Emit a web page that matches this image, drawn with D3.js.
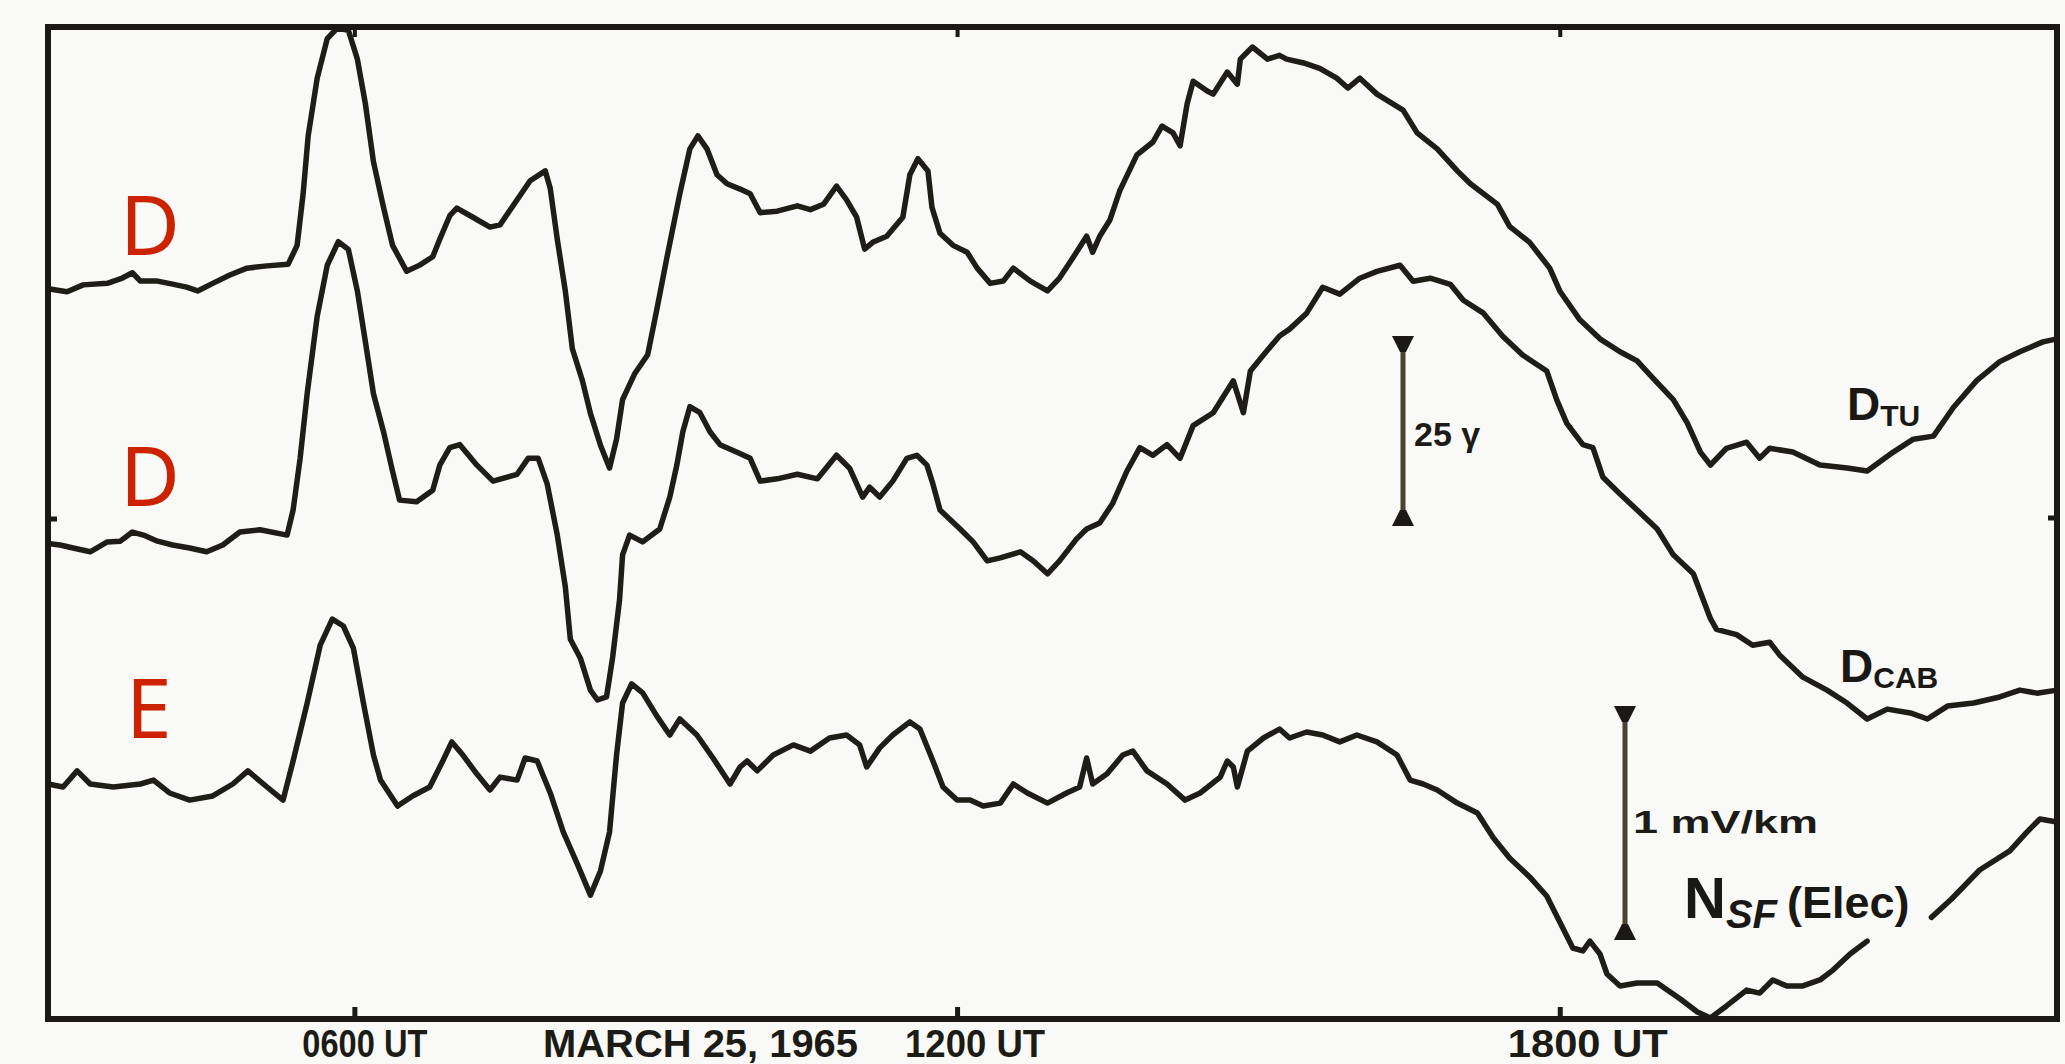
<!DOCTYPE html>
<html>
<head>
<meta charset="utf-8">
<script src="https://cdn.jsdelivr.net/npm/d3@7"></script>
<style>
  html, body { margin: 0; padding: 0; background: #f9f9f7; }
  svg { display: block; }
</style>
</head>
<body>
<svg id="chart" width="2065" height="1064"></svg>
<script>
// ---- Data: Tucson / Cabimas D components (gamma) and N-S electric field (mV/km), 25 March 1965
// Each point: [hour UT, deflection from the quiet level]

const tickHours = [6, 12, 18];
const tickLabels = ["0600 UT", "1200 UT", "1800 UT"];
const tickLabelWidths = [125, 140, 160];
const dateLabel = "MARCH 25, 1965";
const sideLetters = ["D", "D", "E"];

const dTU = [
  [2.95,0.7],[3.14,0.3],[3.30,1.2],[3.54,1.4],[3.69,2.1],[3.79,2.8],[3.87,1.7],[4.04,1.7],[4.19,1.3],[4.33,0.9],
  [4.44,0.4],[4.59,1.4],[4.76,2.5],[4.93,3.4],[5.13,3.7],[5.34,3.9],[5.43,6.4],[5.49,13.2],[5.54,20.8],[5.63,28.4],
  [5.73,33.6],[5.83,35.0],[5.94,34.7],[6.03,30.9],[6.11,25.0],[6.19,17.4],[6.29,11.4],[6.38,6.4],[6.52,3.0],[6.65,3.8],
  [6.78,4.9],[6.85,7.2],[6.95,10.3],[7.02,11.3],[7.18,10.1],[7.35,8.8],[7.45,9.1],[7.62,12.4],[7.75,14.9],[7.90,16.2],
  [7.95,13.9],[8.02,7.2],[8.10,0.4],[8.17,-7.2],[8.27,-11.4],[8.35,-15.7],[8.45,-19.9],[8.54,-22.9],[8.61,-19.1],[8.67,-13.9],
  [8.79,-10.5],[8.92,-8.0],[9.01,-2.1],[9.11,4.7],[9.24,13.2],[9.34,19.1],[9.42,20.8],[9.51,19.1],[9.61,15.7],[9.71,14.5],
  [9.84,13.8],[9.94,13.2],[10.04,10.7],[10.21,10.9],[10.41,11.6],[10.54,11.1],[10.67,11.8],[10.80,14.2],[10.90,12.4],[11.00,10.1],
  [11.08,5.9],[11.16,6.8],[11.30,7.6],[11.46,10.1],[11.53,15.7],[11.61,17.8],[11.71,16.2],[11.75,11.4],[11.83,8.0],[11.96,6.4],
  [12.10,5.5],[12.20,3.4],[12.33,1.4],[12.46,1.7],[12.56,3.4],[12.73,1.7],[12.90,0.4],[13.02,2.1],[13.15,4.7],[13.29,7.6],
  [13.35,5.5],[13.42,7.6],[13.52,9.7],[13.62,13.6],[13.79,18.3],[13.95,20.0],[14.04,22.1],[14.15,21.2],[14.22,19.5],[14.29,25.0],
  [14.35,28.0],[14.49,26.7],[14.55,26.3],[14.69,29.2],[14.79,27.6],[14.82,30.9],[14.94,32.5],[15.09,30.9],[15.21,31.4],[15.28,30.9],
  [15.45,30.4],[15.61,29.7],[15.78,28.4],[15.89,27.1],[16.01,28.4],[16.18,26.3],[16.44,24.2],[16.58,21.2],[16.78,19.1],[16.98,16.2],
  [17.11,14.5],[17.38,11.8],[17.50,8.9],[17.70,6.8],[17.90,3.4],[18.00,0.4],[18.20,-3.4],[18.40,-5.9],[18.60,-7.6],[18.77,-8.8],
  [18.93,-11.1],[19.13,-13.9],[19.27,-17.0],[19.40,-20.8],[19.50,-22.5],[19.66,-20.3],[19.86,-19.5],[19.99,-21.6],[20.09,-20.3],[20.32,-20.8],
  [20.59,-22.5],[20.86,-22.9],[21.06,-23.3],[21.32,-20.8],[21.52,-19.1],[21.72,-18.7],[21.92,-14.9],[22.15,-11.4],[22.38,-8.9],[22.58,-7.6],
  [22.81,-6.3],[22.95,-5.9]
];

const dCAB = [
  [2.95,0.6],[3.07,0.4],[3.20,0],[3.37,-0.5],[3.54,0.8],[3.67,0.9],[3.79,2.1],[3.90,1.7],[4.04,0.9],[4.19,0.4],
  [4.36,0],[4.53,-0.5],[4.69,0.4],[4.86,2.1],[5.06,2.4],[5.33,1.7],[5.39,5.0],[5.46,11.8],[5.53,20.3],[5.63,30.5],
  [5.73,37.2],[5.84,40.3],[5.94,39.3],[6.03,33.8],[6.11,27.1],[6.19,20.3],[6.29,15.3],[6.38,10.1],[6.45,6.3],[6.62,6.1],
  [6.78,7.6],[6.85,10.9],[6.95,13.2],[7.05,13.6],[7.22,10.9],[7.38,8.8],[7.62,9.7],[7.73,11.8],[7.83,11.8],[7.92,8.4],
  [8.02,1.7],[8.10,-5.1],[8.15,-12.0],[8.25,-14.5],[8.35,-18.7],[8.42,-20.0],[8.51,-19.6],[8.57,-14.5],[8.64,-6.8],[8.67,-0.9],
  [8.74,1.7],[8.87,0.8],[9.04,2.5],[9.14,6.7],[9.21,10.9],[9.27,15.3],[9.34,18.6],[9.44,17.8],[9.54,15.3],[9.64,13.6],
  [9.81,12.6],[9.94,11.8],[10.04,8.8],[10.21,9.1],[10.41,9.7],[10.61,9.1],[10.80,12.2],[10.93,10.5],[11.06,6.7],[11.13,8.0],
  [11.23,6.7],[11.36,8.8],[11.50,11.8],[11.60,12.2],[11.70,10.9],[11.76,8.4],[11.83,5.0],[12.03,2.5],[12.16,0.8],[12.30,-1.7],
  [12.43,-1.3],[12.63,-0.5],[12.76,-1.7],[12.90,-3.4],[13.02,-1.7],[13.19,1.2],[13.29,2.5],[13.42,3.3],[13.55,5.9],[13.69,10.1],
  [13.82,13.2],[13.95,12.2],[14.09,13.6],[14.22,11.8],[14.35,16.1],[14.55,17.8],[14.75,22.0],[14.85,17.8],[14.92,23.3],[15.05,25.4],
  [15.21,27.9],[15.31,28.8],[15.48,30.9],[15.64,34.3],[15.81,33.4],[16.01,35.5],[16.18,36.4],[16.41,37.2],[16.54,35.1],[16.71,35.5],
  [16.91,34.7],[17.04,32.6],[17.24,30.9],[17.43,27.9],[17.63,25.4],[17.87,23.3],[17.97,19.5],[18.07,16.4],[18.23,13.6],[18.33,13.2],
  [18.43,9.3],[18.60,7.1],[18.77,5.0],[18.97,2.5],[19.13,-0.9],[19.33,-3.4],[19.50,-9.3],[19.56,-10.7],[19.76,-11.4],[19.92,-12.8],
  [20.09,-12.4],[20.19,-14.1],[20.42,-17.0],[20.66,-18.7],[20.86,-20.4],[21.06,-22.5],[21.26,-21.2],[21.49,-21.7],[21.66,-22.5],[21.86,-20.8],
  [22.12,-20.4],[22.38,-19.6],[22.58,-18.7],[22.75,-19.1],[22.95,-18.7]
];

// null marks the break in the trace left for the "NSF (Elec)" label
const nsfElec = [
  [2.95,0],[3.10,-0.013],[3.24,0.057],[3.37,0],[3.60,-0.013],[3.87,0],[4.00,0.017],[4.16,-0.039],[4.36,-0.070],[4.59,-0.052],
  [4.79,0],[4.94,0.057],[5.13,-0.013],[5.29,-0.070],[5.39,0.100],[5.53,0.352],[5.66,0.604],[5.78,0.717],[5.89,0.687],[5.99,0.591],
  [6.09,0.352],[6.19,0.126],[6.26,0.017],[6.43,-0.096],[6.58,-0.052],[6.75,-0.013],[6.88,0.100],[6.97,0.183],[7.08,0.126],[7.22,0.043],
  [7.35,-0.026],[7.45,0.030],[7.62,0.017],[7.70,0.113],[7.82,0.100],[7.95,-0.039],[8.08,-0.209],[8.22,-0.348],[8.35,-0.483],[8.45,-0.378],
  [8.54,-0.209],[8.61,0.126],[8.67,0.352],[8.76,0.435],[8.87,0.396],[9.01,0.296],[9.14,0.213],[9.24,0.283],[9.41,0.213],[9.57,0.113],
  [9.74,0],[9.84,0.074],[9.91,0.100],[10.01,0.057],[10.17,0.126],[10.37,0.170],[10.54,0.143],[10.73,0.200],[10.90,0.213],[11.03,0.170],
  [11.10,0.074],[11.23,0.157],[11.36,0.213],[11.53,0.270],[11.63,0.239],[11.76,0.100],[11.86,-0.013],[12.00,-0.070],[12.13,-0.070],[12.26,-0.096],
  [12.43,-0.083],[12.56,0],[12.70,-0.039],[12.90,-0.083],[13.09,-0.039],[13.22,-0.013],[13.29,0.113],[13.35,0],[13.49,0.043],[13.65,0.126],
  [13.75,0.143],[13.89,0.057],[14.09,0],[14.27,-0.070],[14.42,-0.039],[14.62,0.030],[14.69,0.100],[14.75,0.074],[14.79,-0.013],[14.89,0.143],
  [15.05,0.200],[15.21,0.239],[15.31,0.200],[15.48,0.226],[15.64,0.213],[15.81,0.183],[15.98,0.213],[16.18,0.183],[16.38,0.126],[16.51,0.017],
  [16.64,0],[16.78,-0.026],[16.98,-0.083],[17.18,-0.126],[17.34,-0.235],[17.50,-0.322],[17.70,-0.404],[17.87,-0.487],[18.00,-0.600],[18.13,-0.713],
  [18.23,-0.726],[18.30,-0.683],[18.40,-0.739],[18.47,-0.826],[18.60,-0.878],[18.77,-0.865],[18.97,-0.865],[19.20,-0.935],[19.37,-0.991],[19.50,-1.017],
  [19.66,-0.965],[19.86,-0.896],[19.99,-0.909],[20.12,-0.852],[20.26,-0.878],[20.42,-0.878],[20.59,-0.852],[20.72,-0.809],[20.89,-0.739],[21.06,-0.683],
  [21.40,null],
  [21.70,-0.580],[21.90,-0.500],[22.18,-0.374],[22.48,-0.291],[22.65,-0.209],[22.78,-0.152],[22.95,-0.165]
];

const gammaBar = 25;   // γ
const elecBar = 1;     // mV/km

// ---- Layout
const svg = d3.select("#chart");
const frame = { left: 48, right: 2057, top: 27, bottom: 1019 };
const ink = "#1f1d18";

const x = d3.scaleLinear().domain([2.95, 22.95]).range([frame.left, frame.right]);

// one vertical scale per trace, same sensitivity for both D traces
const gammaPx = 190 / 25;
const yTU  = d3.scaleLinear().domain([0, 25]).range([294, 294 - 25 * gammaPx]);
const yCAB = d3.scaleLinear().domain([0, 25]).range([548, 548 - 25 * gammaPx]);
const yE   = d3.scaleLinear().domain([0, 1]).range([784, 784 - 230]);

// background
svg.append("rect").attr("width", 2065).attr("height", 1064).attr("fill", "#f9f9f7");

// ---- Traces
function trace(data, y) {
  return d3.line()
    .defined(d => d[1] !== null)
    .x(d => x(d[0]))
    .y(d => y(d[1]))
    .curve(d3.curveLinear)(data);
}

const traces = svg.append("g")
  .attr("fill", "none")
  .attr("stroke", ink)
  .attr("stroke-width", 5.5)
  .attr("stroke-linejoin", "round")
  .attr("stroke-linecap", "round");

traces.append("path").attr("d", trace(dTU, yTU));
traces.append("path").attr("d", trace(dCAB, yCAB));
traces.append("path").attr("d", trace(nsfElec, yE));

// ---- Frame and time ticks
const frameInk = "#1b1915";
svg.append("rect")
  .attr("x", frame.left).attr("y", frame.top)
  .attr("width", frame.right - frame.left).attr("height", frame.bottom - frame.top)
  .attr("fill", "none").attr("stroke", frameInk).attr("stroke-width", 6);

const bottomAxis = d3.axisBottom(x).tickValues(tickHours).tickSize(-12).tickSizeOuter(0).tickFormat("");
const topAxis = d3.axisTop(x).tickValues(tickHours).tickSize(-10).tickSizeOuter(0).tickFormat("");

svg.append("g").attr("transform", `translate(0,${frame.bottom})`).call(bottomAxis)
  .call(g => g.select(".domain").remove())
  .call(g => g.selectAll("line").attr("stroke", frameInk).attr("stroke-width", 5));
svg.append("g").attr("transform", `translate(0,${frame.top})`).call(topAxis)
  .call(g => g.select(".domain").remove())
  .call(g => g.selectAll("line").attr("stroke", frameInk).attr("stroke-width", 4));

// short side ticks on left and right borders
svg.append("line").attr("x1", frame.left).attr("x2", frame.left + 9).attr("y1", 519).attr("y2", 519)
  .attr("stroke", frameInk).attr("stroke-width", 5);
svg.append("line").attr("x1", frame.right - 9).attr("x2", frame.right).attr("y1", 518).attr("y2", 518)
  .attr("stroke", frameInk).attr("stroke-width", 5);

// ---- Time labels
const labelFont = "'Liberation Sans', Arial, sans-serif";
svg.append("g").selectAll("text").data(tickHours).join("text")
  .attr("x", d => x(d) - 52)
  .attr("y", 1057)
  .attr("textLength", (d, i) => tickLabelWidths[i])
  .attr("lengthAdjust", "spacingAndGlyphs")
  .attr("font-family", labelFont).attr("font-weight", "bold").attr("font-size", 38)
  .attr("fill", "#1d1b16")
  .text((d, i) => tickLabels[i]);

svg.append("text")
  .attr("x", 543).attr("y", 1057)
  .attr("textLength", 315).attr("lengthAdjust", "spacingAndGlyphs")
  .attr("font-family", labelFont).attr("font-weight", "bold").attr("font-size", 38)
  .attr("fill", "#1d1b16")
  .text(dateLabel);

// ---- Calibration bars
function calBar(xPos, top, len) {
  const g = svg.append("g");
  g.append("line").attr("x1", xPos).attr("x2", xPos).attr("y1", top + 4).attr("y2", top + len - 4)
    .attr("stroke", "#4a4334").attr("stroke-width", 5);
  const cap = 11, h = 16;
  g.append("path").attr("fill", frameInk)
    .attr("d", `M${xPos - cap},${top} L${xPos + cap},${top} L${xPos + 3},${top + h} L${xPos - 3},${top + h} Z`);
  g.append("path").attr("fill", frameInk)
    .attr("d", `M${xPos - cap},${top + len} L${xPos + cap},${top + len} L${xPos + 3},${top + len - h} L${xPos - 3},${top + len - h} Z`);
  return g;
}

calBar(1403, 336, yTU(0) - yTU(gammaBar));
svg.append("text")
  .attr("x", 1414).attr("y", 446)
  .attr("font-family", labelFont).attr("font-weight", "bold").attr("font-size", 34)
  .attr("fill", "#1d1b16")
  .text(`${gammaBar} γ`);

calBar(1625, 706, yE(0) - yE(elecBar) + 4);
svg.append("text")
  .attr("x", 1633).attr("y", 833)
  .attr("textLength", 185).attr("lengthAdjust", "spacingAndGlyphs")
  .attr("font-family", labelFont).attr("font-weight", "bold").attr("font-size", 32)
  .attr("fill", "#1d1b16")
  .text(`${elecBar} mV/km`);

// ---- Trace names
function traceName(xPos, yPos, main, sub, mainSize, subSize) {
  const t = svg.append("text")
    .attr("x", xPos).attr("y", yPos)
    .attr("font-family", labelFont).attr("font-weight", "bold")
    .attr("fill", "#1a1814");
  t.append("tspan").attr("font-size", mainSize).text(main);
  t.append("tspan").attr("font-size", subSize).attr("dy", 6).text(sub);
  return t;
}
traceName(1847, 420, "D", "TU", 46, 30);
traceName(1840, 682, "D", "CAB", 46, 30);

const nsf = svg.append("text")
  .attr("x", 1684).attr("y", 918)
  .attr("font-family", labelFont).attr("font-weight", "bold")
  .attr("fill", "#1a1814");
nsf.append("tspan").attr("font-size", 58).text("N");
nsf.append("tspan").attr("font-size", 40).attr("font-style", "italic").attr("dy", 10).text("SF");
nsf.append("tspan").attr("font-size", 45).attr("dy", -10).attr("dx", 10).text("(Elec)");

// ---- Component letters at the left
const letterY = [255, 506, 738];
svg.append("g").selectAll("text").data(sideLetters).join("text")
  .attr("x", (d, i) => i === 2 ? 126 : 120)
  .attr("y", (d, i) => letterY[i])
  .attr("font-family", "'Noto Sans', 'Open Sans', sans-serif")
  .attr("font-size", 82)
  .attr("fill", "#cc2200")
  .text(d => d);
</script>
</body>
</html>
